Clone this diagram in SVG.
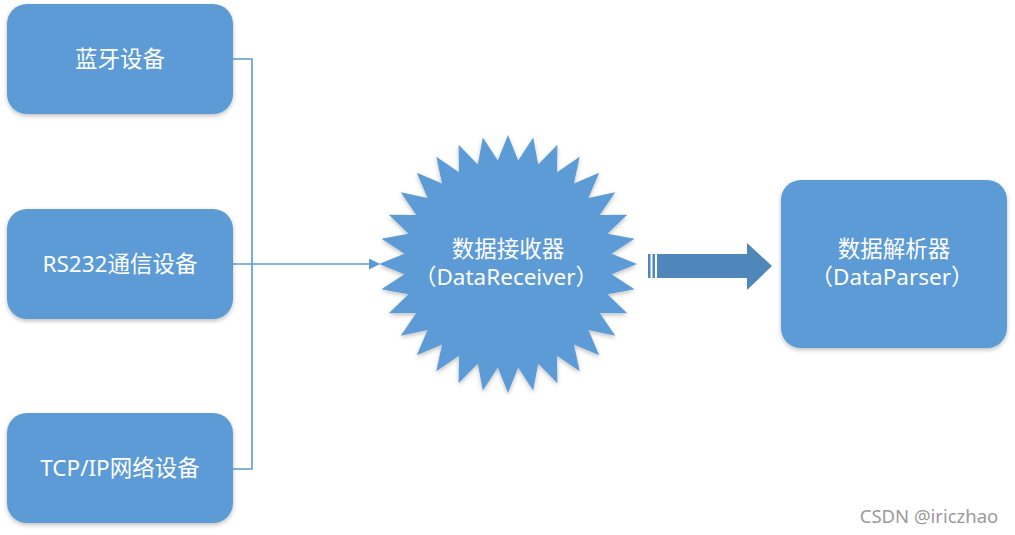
<svg xmlns="http://www.w3.org/2000/svg" width="1015" height="535" viewBox="0 0 1015 535">
<defs>
<style>
.box{fill:#5B9BD5;filter:url(#sh)}
.t{fill:#fff;font-family:"Noto Sans","Noto Sans CJK SC",sans-serif;font-size:22.5px;text-anchor:middle}
.conn{fill:none;stroke:#5B9BD5;stroke-width:1.6}
</style>
<filter id="sh" x="-10%" y="-10%" width="120%" height="125%">
<feDropShadow dx="0" dy="2" stdDeviation="2" flood-color="#000" flood-opacity="0.25"/>
</filter>
<marker id="ah" markerWidth="11" markerHeight="11" refX="10" refY="5.5" orient="auto" markerUnits="userSpaceOnUse">
<path d="M0,0 L11,5.5 L0,11 z" fill="#5B9BD5"/>
</marker>
</defs>
<rect width="1015" height="535" fill="#fff"/>
<g id="conn">
<path class="conn" d="M233,59 H252 V469 H233"/>
<path class="conn" d="M233,264 H379" marker-end="url(#ah)"/>
<g id="bigarrow" fill="#4F87BA">
<rect x="648" y="254" width="2.5" height="24"/>
<rect x="652.5" y="254" width="2.5" height="24"/>
<path d="M657,254 H747 V243 L772,266 L747,290 V278 H657 Z"/>
</g>
</g>
<g id="n1"><rect class="box" x="7" y="4" width="226" height="110" rx="20"/><text class="t" x="120" y="67">蓝牙设备</text></g>
<g id="n2"><rect class="box" x="7" y="209" width="226" height="110" rx="20"/><text class="t" x="120" y="272">RS232通信设备</text></g>
<g id="n3"><rect class="box" x="7" y="413" width="226" height="110" rx="20"/><text class="t" x="120" y="476">TCP/IP网络设备</text></g>
<g id="n4"><polygon class="box" points="508,135 518.19,160.5 533.17,137.48 538.19,164.48 557.37,144.82 557.03,172.28 579.67,156.74 573.98,183.61 599.22,172.78 588.39,198.02 615.26,192.33 599.72,214.97 627.18,214.63 607.52,233.81 634.52,238.83 611.5,253.81 637,264 611.5,274.19 634.52,289.17 607.52,294.19 627.18,313.37 599.72,313.03 615.26,335.67 588.39,329.98 599.22,355.22 573.98,344.39 579.67,371.26 557.03,355.72 557.37,383.18 538.19,363.52 533.17,390.52 518.19,367.5 508,393 497.81,367.5 482.83,390.52 477.81,363.52 458.63,383.18 458.97,355.72 436.33,371.26 442.02,344.39 416.78,355.22 427.61,329.98 400.74,335.67 416.28,313.03 388.82,313.37 408.48,294.19 381.48,289.17 404.5,274.19 379,264 404.5,253.81 381.48,238.83 408.48,233.81 388.82,214.63 416.28,214.97 400.74,192.33 427.61,198.02 416.78,172.78 442.02,183.61 436.33,156.74 458.97,172.28 458.63,144.82 477.81,164.48 482.83,137.48 497.81,160.5"/>
<text class="t" x="508" y="257">数据接收器</text><text class="t" x="506" y="285">（DataReceiver）</text></g>
<g id="n5"><rect class="box" x="781" y="180" width="226" height="168" rx="20"/><text class="t" x="894" y="257">数据解析器</text><text class="t" x="892" y="285">（DataParser）</text></g>
<text x="929" y="523" font-family="'Noto Sans',sans-serif" font-size="18.5" fill="#9a9a9a" text-anchor="middle">CSDN @iriczhao</text>
</svg>
